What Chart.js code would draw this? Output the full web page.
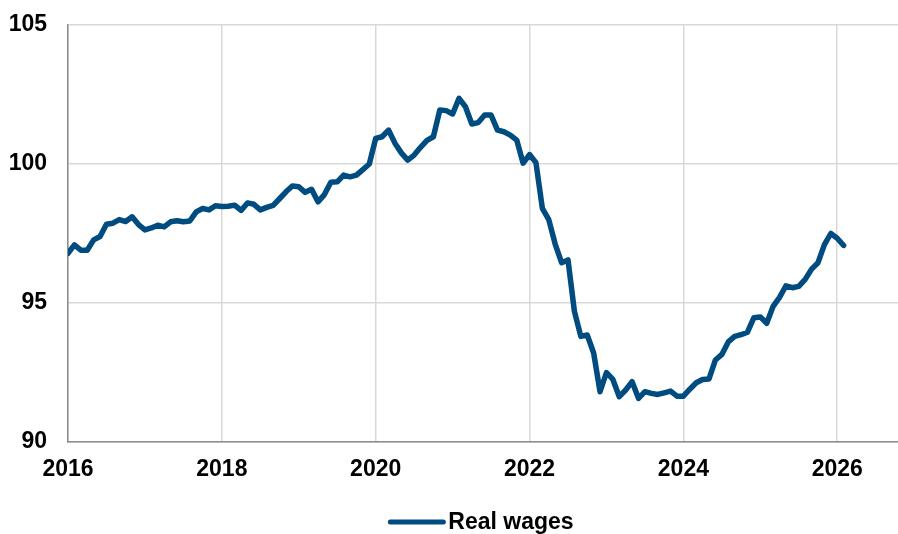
<!DOCTYPE html>
<html>
<head>
<meta charset="utf-8">
<script src="https://cdn.jsdelivr.net/npm/chart.js@4"></script>
<style>
  html, body { margin: 0; padding: 0; background: #fff; }
  #wrap { width: 898px; height: 534px; }
</style>
</head>
<body>
<div id="wrap"><canvas id="wages"></canvas></div>
<script>
// monthly index, first observation January 2016
const firstYear = 2016;
const realWages = [
  96.79, 97.09, 96.90, 96.90, 97.27, 97.39, 97.83, 97.87, 98.00, 97.93, 98.10, 97.82, // 2016
  97.63, 97.70, 97.80, 97.74, 97.92, 97.96, 97.92, 97.95, 98.28, 98.40, 98.35, 98.50, // 2017
  98.47, 98.48, 98.52, 98.33, 98.60, 98.55, 98.35, 98.44, 98.51, 98.75, 99.00, 99.21, // 2018
  99.18, 98.98, 99.09, 98.64, 98.90, 99.34, 99.36, 99.60, 99.54, 99.60, 99.80, 100.00, // 2019
  100.92, 100.98, 101.22, 100.75, 100.40, 100.14, 100.32, 100.60, 100.85, 100.98, 101.94, 101.92, // 2020
  101.80, 102.36, 102.06, 101.44, 101.49, 101.76, 101.76, 101.22, 101.16, 101.04, 100.86, 100.03, // 2021
  100.34, 100.05, 98.40, 98.00, 97.12, 96.45, 96.55, 94.70, 93.80, 93.85, 93.20, 91.81, // 2022
  92.50, 92.25, 91.63, 91.87, 92.17, 91.57, 91.81, 91.75, 91.71, 91.77, 91.83, 91.65, // 2023
  91.65, 91.90, 92.13, 92.25, 92.27, 92.95, 93.15, 93.60, 93.80, 93.86, 93.95, 94.47, // 2024
  94.50, 94.27, 94.88, 95.20, 95.62, 95.55, 95.60, 95.85, 96.22, 96.45, 97.10, 97.50, // 2025
  97.33, 97.07 // 2026
];
const xTicks = [2016, 2018, 2020, 2022, 2024, 2026];
const yTicks = [90, 95, 100, 105];
const seriesLabel = 'Real wages';

const lineColor = '#004b7f';
const gridColor = '#d9d9d9';
const axisColor = '#8c8c8c';
const fontFamily = 'Liberation Sans, Arial, sans-serif';
const labelFont = { family: fontFamily, size: 23, weight: 'bold' };

const points = realWages.map((v, i) => ({ x: firstYear + i / 12, y: v }));

// legend drawn by hand: short thick line, then the label right next to it
const lineLegend = {
  id: 'lineLegend',
  afterDraw(chart) {
    const ctx = chart.ctx;
    const area = chart.chartArea;
    const sampleW = 57;
    const gap = 3;
    ctx.save();
    ctx.font = 'bold 23px ' + fontFamily;
    const textW = ctx.measureText(seriesLabel).width;
    const total = sampleW + gap + textW;
    const x0 = (area.left + area.right) / 2 - total / 2 - 2;
    const y = 522;
    ctx.strokeStyle = lineColor;
    ctx.lineWidth = 5;
    ctx.lineCap = 'round';
    ctx.beginPath();
    ctx.moveTo(x0 + 2, y);
    ctx.lineTo(x0 + sampleW - 2, y);
    ctx.stroke();
    ctx.fillStyle = '#000';
    ctx.textBaseline = 'middle';
    ctx.textAlign = 'left';
    ctx.fillText(seriesLabel, x0 + sampleW + gap, y + 1);
    ctx.restore();
  }
};

new Chart(document.getElementById('wages').getContext('2d'), {
  type: 'line',
  data: {
    datasets: [{
      label: seriesLabel,
      data: points,
      borderColor: lineColor,
      backgroundColor: lineColor,
      borderWidth: 5.5,
      pointRadius: 0,
      tension: 0,
      borderJoinStyle: 'round',
      borderCapStyle: 'round'
    }]
  },
  options: {
    responsive: true,
    maintainAspectRatio: false,
    animation: false,
    layout: { padding: { left: 8, right: 0, top: 25, bottom: 50 } },
    scales: {
      x: {
        type: 'linear',
        min: 2016,
        max: 2026.79,
        afterBuildTicks: (axis) => { axis.ticks = xTicks.map(v => ({ value: v })); },
        afterFit: (axis) => {
          axis.height = 42;
          axis.paddingLeft = 0;
          axis.paddingRight = 0;
        },
        ticks: {
          color: '#000',
          font: labelFont,
          padding: 14,
          maxRotation: 0,
          callback: (v) => String(v)
        },
        grid: { color: gridColor, lineWidth: 1.5, drawTicks: false },
        border: { color: axisColor, width: 1.5 }
      },
      y: {
        min: 90,
        max: 105,
        afterBuildTicks: (axis) => { axis.ticks = yTicks.map(v => ({ value: v })); },
        afterFit: (axis) => {
          axis.width = 60;
          axis.paddingTop = 0;
          axis.paddingBottom = 0;
        },
        ticks: {
          color: '#000',
          font: labelFont,
          padding: 21
        },
        grid: { color: gridColor, lineWidth: 1.5, drawTicks: false },
        border: { color: axisColor, width: 1.5 }
      }
    },
    plugins: {
      legend: { display: false },
      tooltip: { enabled: false }
    }
  },
  plugins: [lineLegend]
});
</script>
</body>
</html>
